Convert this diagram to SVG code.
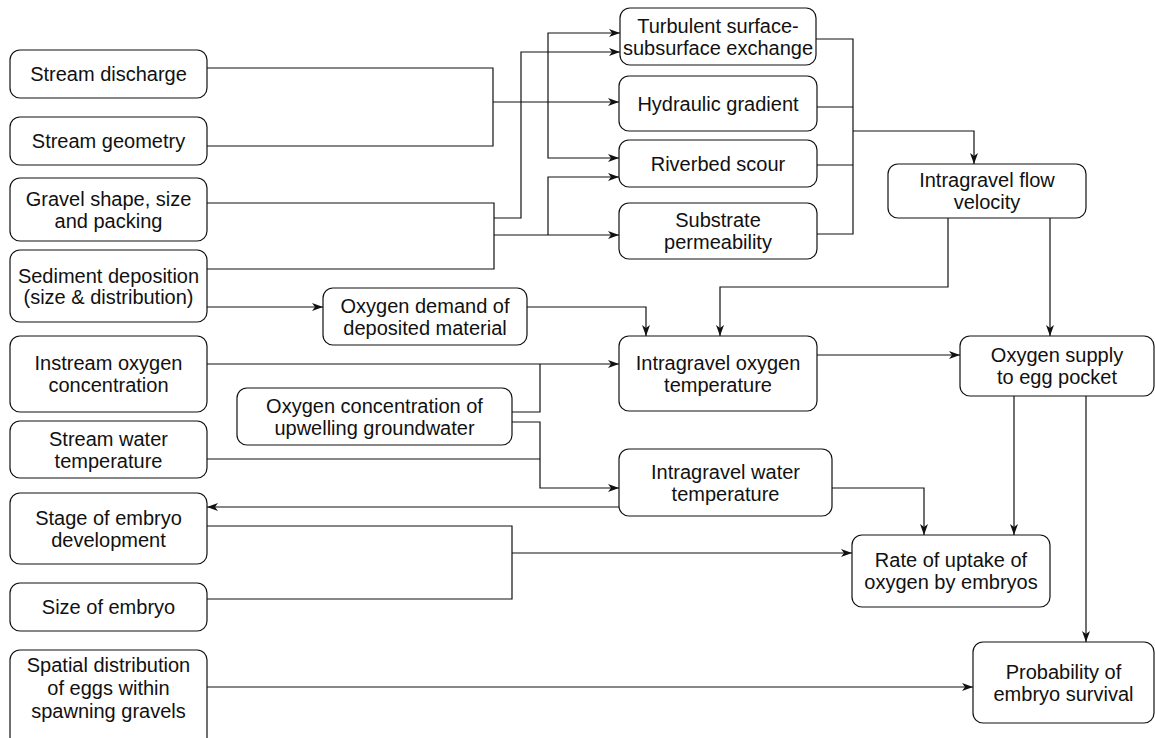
<svg xmlns="http://www.w3.org/2000/svg" width="1155" height="738" viewBox="0 0 1155 738">
<style>
.box{fill:#fff;stroke:#111;stroke-width:1.2}
.t{font-family:"Liberation Sans",Arial,sans-serif;font-size:20px;fill:#111;text-anchor:middle}
.c{fill:none;stroke:#111;stroke-width:1.2}
.a{marker-end:url(#arr)}
</style>
<defs>
<marker id="arr" markerUnits="userSpaceOnUse" markerWidth="12" markerHeight="10" refX="11" refY="5" orient="auto">
<path d="M0,1 L11,5 L0,9 L3,5 z" fill="#111"/>
</marker>
</defs>
<rect width="1155" height="738" fill="#fff"/>
<g id="connectors">
<path class="c" d="M207,68 H493 V146 H207"/>
<path class="c a" d="M493,102 H619"/>
<path class="c a" d="M548,102 V33 H620"/>
<path class="c a" d="M548,102 V158 H619"/>
<path class="c" d="M207,203 H494 V269 H207"/>
<path class="c a" d="M494,218 H521 V52 H620"/>
<path class="c a" d="M494,235 H619"/>
<path class="c a" d="M548,235 V177 H619"/>
<path class="c a" d="M207,307 H323"/>
<path class="c a" d="M527,307 H646 V336"/>
<path class="c a" d="M948,218 V287 H720 V336"/>
<path class="c a" d="M1050,218 V336"/>
<path class="c" d="M816,39 H853 V234 H817 M817,107 H853 M817,165 H853"/>
<path class="c a" d="M853,131 H974 V164"/>
<path class="c a" d="M207,364 H619"/>
<path class="c" d="M512,412 H540 V364"/>
<path class="c a" d="M512,422 H540 V488 H619"/>
<path class="c" d="M207,459 H540"/>
<path class="c a" d="M817,355 H960"/>
<path class="c a" d="M619,507 H207"/>
<path class="c a" d="M832,488 H924 V535"/>
<path class="c" d="M207,526 H512 V599 H207"/>
<path class="c a" d="M512,553 H852"/>
<path class="c a" d="M1014,396 V535"/>
<path class="c a" d="M1086,396 V642"/>
<path class="c a" d="M207,687 H973"/>
</g>
<g id="stream-discharge"><rect class="box" x="10" y="50" width="197" height="48" rx="10"/><text class="t" x="108.5" y="81">Stream discharge</text></g>
<g id="stream-geometry"><rect class="box" x="10" y="117" width="197" height="48" rx="10"/><text class="t" x="108.5" y="148">Stream geometry</text></g>
<g id="gravel"><rect class="box" x="10" y="178" width="197" height="63" rx="10"/><text class="t" x="108.5" y="205.5">Gravel shape, size</text><text class="t" x="108.5" y="227.5">and packing</text></g>
<g id="sediment"><rect class="box" x="10" y="250" width="197" height="72" rx="10"/><text class="t" x="108.5" y="282.5">Sediment deposition</text><text class="t" x="108.5" y="303.5">(size &amp; distribution)</text></g>
<g id="instream-oxygen"><rect class="box" x="10" y="336" width="197" height="76" rx="10"/><text class="t" x="108.5" y="370">Instream oxygen</text><text class="t" x="108.5" y="392">concentration</text></g>
<g id="stream-water-temp"><rect class="box" x="10" y="421" width="197" height="57" rx="10"/><text class="t" x="108.5" y="445.5">Stream water</text><text class="t" x="108.5" y="467.5">temperature</text></g>
<g id="stage-embryo"><rect class="box" x="10" y="493" width="197" height="71" rx="10"/><text class="t" x="108.5" y="524.5">Stage of embryo</text><text class="t" x="108.5" y="546.5">development</text></g>
<g id="size-embryo"><rect class="box" x="10" y="583" width="197" height="48" rx="10"/><text class="t" x="108.5" y="614">Size of embryo</text></g>
<g id="spatial-distribution"><rect class="box" x="10" y="650" width="197" height="100" rx="10"/><text class="t" x="108.5" y="672">Spatial distribution</text><text class="t" x="108.5" y="695">of eggs within</text><text class="t" x="108.5" y="718">spawning gravels</text></g>
<g id="turbulent"><rect class="box" x="620" y="8" width="196" height="57" rx="10"/><text class="t" x="718" y="32.5">Turbulent surface-</text><text class="t" x="718" y="54.5">subsurface exchange</text></g>
<g id="hydraulic"><rect class="box" x="619" y="76" width="198" height="55" rx="10"/><text class="t" x="718" y="110.5">Hydraulic gradient</text></g>
<g id="riverbed"><rect class="box" x="619" y="140" width="198" height="47" rx="10"/><text class="t" x="718" y="170.5">Riverbed scour</text></g>
<g id="substrate"><rect class="box" x="619" y="203" width="198" height="56" rx="10"/><text class="t" x="718" y="227">Substrate</text><text class="t" x="718" y="249">permeability</text></g>
<g id="oxygen-demand"><rect class="box" x="323" y="288" width="204" height="57" rx="10"/><text class="t" x="425" y="312.5">Oxygen demand of</text><text class="t" x="425" y="334.5">deposited material</text></g>
<g id="upwelling"><rect class="box" x="237" y="388" width="275" height="57" rx="10"/><text class="t" x="374.5" y="412.5">Oxygen concentration of</text><text class="t" x="374.5" y="434.5">upwelling groundwater</text></g>
<g id="intragravel-oxygen"><rect class="box" x="619" y="336" width="198" height="75" rx="10"/><text class="t" x="718" y="369.5">Intragravel oxygen</text><text class="t" x="718" y="391.5">temperature</text></g>
<g id="intragravel-water"><rect class="box" x="619" y="449" width="213" height="67" rx="10"/><text class="t" x="725.5" y="478.5">Intragravel water</text><text class="t" x="725.5" y="500.5">temperature</text></g>
<g id="flow-velocity"><rect class="box" x="888" y="164" width="198" height="54" rx="10"/><text class="t" x="987" y="187">Intragravel flow</text><text class="t" x="987" y="209">velocity</text></g>
<g id="oxygen-supply"><rect class="box" x="960" y="336" width="194" height="60" rx="10"/><text class="t" x="1057" y="362">Oxygen supply</text><text class="t" x="1057" y="384">to egg pocket</text></g>
<g id="uptake"><rect class="box" x="852" y="535" width="198" height="72" rx="10"/><text class="t" x="951" y="567">Rate of uptake of</text><text class="t" x="951" y="589">oxygen by embryos</text></g>
<g id="probability"><rect class="box" x="973" y="642" width="181" height="81" rx="10"/><text class="t" x="1063.5" y="678.5">Probability of</text><text class="t" x="1063.5" y="700.5">embryo survival</text></g>
</svg>
